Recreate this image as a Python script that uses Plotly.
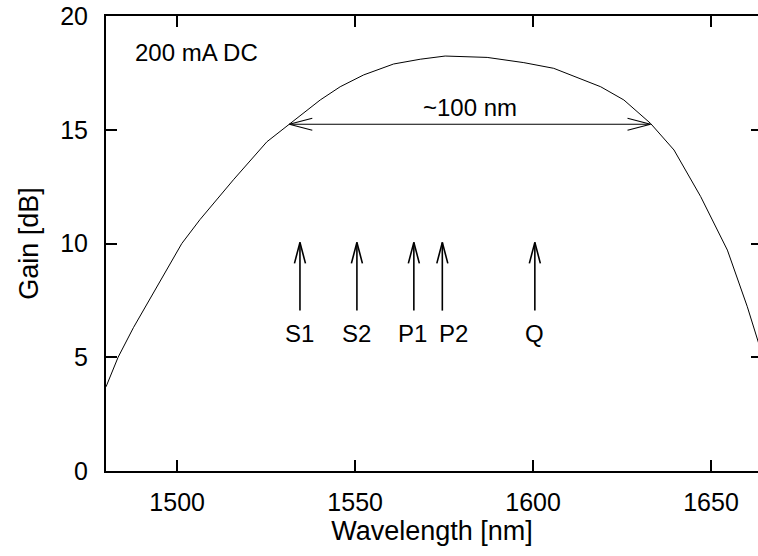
import plotly.graph_objects as go

# Gain curve
wavelength = [1480, 1483.4, 1487.7, 1492.4, 1498.0, 1501.3, 1506.4, 1515.8, 1525.2, 1531.7,
              1540.2, 1545.8, 1552.4, 1560.8, 1568.3, 1575.3, 1587.1, 1597.4,
              1605.8, 1619.0, 1625.5, 1633.0, 1639.6, 1647.1, 1654.6, 1660.2, 1663.0, 1665.0]
gain = [3.7, 5.0, 6.3, 7.6, 9.1, 10.0, 11.05, 12.8, 14.47, 15.28,
        16.31, 16.89, 17.41, 17.89, 18.10, 18.24, 18.18, 17.95,
        17.7, 16.89, 16.31, 15.28, 14.11, 12.06, 9.71, 7.22, 5.76, 4.8]

# Pump / signal markers
marker_labels = ["S1", "S2", "P1", "P2", "Q"]
marker_wl = [1534.5, 1550.5, 1566.5, 1574.5, 1600.5]
label_wl = [1534.3, 1550.5, 1566.2, 1577.6, 1600.5]
arrow_base = 7.05
arrow_tip = 10.05
label_y = 6.05

# Bandwidth arrow
bw_start = 1531.5
bw_end = 1633.0
bw_level = 15.24
bw_text = "~100 nm"
bw_text_pos = (1582.4, 16.0)

note_text = "200 mA DC"
note_pos = (1487.6, 18.4)

x_range = [1480, 1663.2]
y_range = [0, 20]
x_ticks = [1500, 1550, 1600, 1650]
y_ticks = [0, 5, 10, 15, 20]

FONT = "Liberation Sans"
FS = 24      # annotations
FS_TICK = 25
FS_TITLE = 27

W, H = 758, 556
ML, MR, MT, MB = 106, 0, 16, 85
px_x = (W - ML - MR) / (x_range[1] - x_range[0])
px_y = (H - MT - MB) / (y_range[1] - y_range[0])

fig = go.Figure()
fig.add_trace(go.Scatter(x=wavelength, y=gain, mode="lines",
                         line=dict(color="black", width=1), showlegend=False,
                         hoverinfo="skip"))

# vertical arrows
ax, ay = [], []
hw = 5.5 / px_x
hl = 21 / px_y
for xv in marker_wl:
    ax += [xv, xv, None, xv - hw, xv, xv + hw, None]
    ay += [arrow_base, arrow_tip, None, arrow_tip - hl, arrow_tip, arrow_tip - hl, None]
fig.add_trace(go.Scatter(x=ax, y=ay, mode="lines", line=dict(color="black", width=1.6),
                         showlegend=False, hoverinfo="skip"))

# double arrow
dl = 23 / px_x
dh = 6 / px_y
bx = [bw_start, bw_end, None,
      bw_start + dl, bw_start, bw_start + dl, None,
      bw_end - dl, bw_end, bw_end - dl]
by = [bw_level, bw_level, None,
      bw_level + dh, bw_level, bw_level - dh, None,
      bw_level + dh, bw_level, bw_level - dh]
fig.add_trace(go.Scatter(x=bx, y=by, mode="lines", line=dict(color="black", width=1.1),
                         showlegend=False, hoverinfo="skip"))

# dummy trace for right tick axis
fig.add_trace(go.Scatter(x=[None], y=[None], yaxis="y2", showlegend=False))

annotations = []
for lab, xv in zip(marker_labels, label_wl):
    annotations.append(dict(x=xv, y=label_y, text=lab, showarrow=False,
                            xanchor="center", yanchor="middle",
                            font=dict(family=FONT, size=FS, color="black")))
annotations.append(dict(x=bw_text_pos[0], y=bw_text_pos[1], text=bw_text, showarrow=False,
                        xanchor="center", yanchor="middle",
                        font=dict(family=FONT, size=FS, color="black")))
annotations.append(dict(x=note_pos[0], y=note_pos[1], text=note_text, showarrow=False,
                        xanchor="left", yanchor="middle",
                        font=dict(family=FONT, size=FS, color="black")))

fig.update_layout(
    width=W, height=H,
    margin=dict(l=ML, r=MR, t=MT, b=MB, pad=0),
    paper_bgcolor="white", plot_bgcolor="white",
    font=dict(family=FONT, size=FS, color="black"),
    annotations=annotations,
    xaxis=dict(range=x_range, tickvals=x_ticks, ticks="inside", ticklen=11, tickwidth=1.5,
               tickcolor="black", showline=True, linewidth=2, linecolor="black",
               mirror="ticks", showgrid=False, zeroline=False,
               ticklabelstandoff=8, tickfont=dict(family=FONT, size=FS_TICK),
               title=dict(text="Wavelength [nm]", standoff=0,
                          font=dict(family=FONT, size=FS_TITLE))),
    yaxis=dict(range=y_range, tickvals=y_ticks, ticks="inside", ticklen=11, tickwidth=1.5,
               tickcolor="black", showline=True, linewidth=2, linecolor="black",
               mirror=False, showgrid=False, zeroline=False,
               ticklabelstandoff=11, tickfont=dict(family=FONT, size=FS_TICK),
               title=dict(text="Gain [dB]", standoff=14,
                          font=dict(family=FONT, size=FS_TITLE))),
    yaxis2=dict(range=y_range, tickvals=y_ticks, ticks="inside", ticklen=7, tickwidth=1.5,
                tickcolor="black", overlaying="y", side="right", showline=False,
                showticklabels=False, showgrid=False, zeroline=False),
)

fig.write_html("out.html")
